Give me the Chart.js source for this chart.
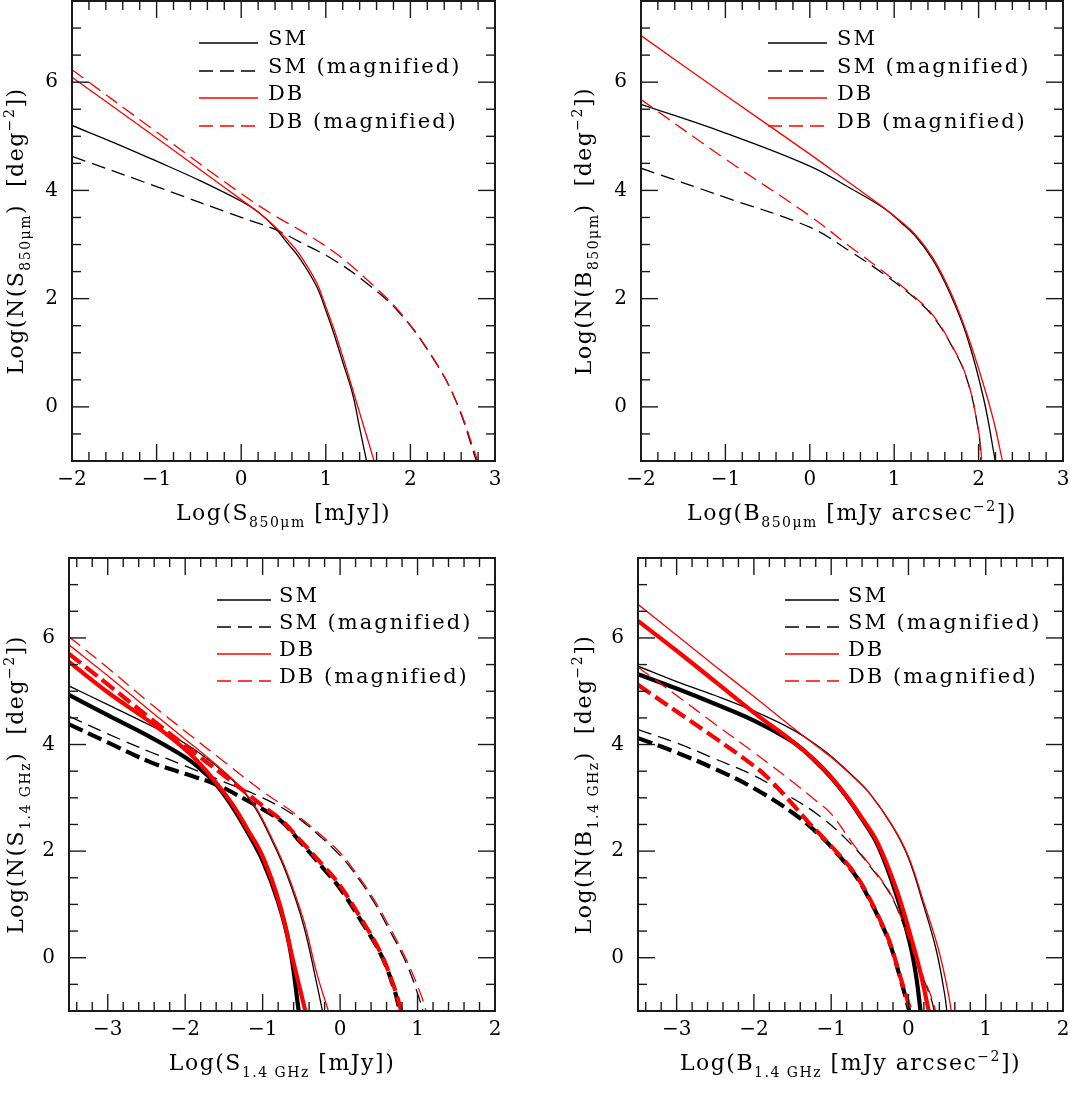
<!DOCTYPE html>
<html>
<head>
<meta charset="utf-8">
<script src="https://cdn.jsdelivr.net/npm/chart.js@4.4.0/dist/chart.umd.min.js"></script>
<style>
  body { margin: 0; background: #fff; width: 1070px; height: 1095px; position: relative; overflow: hidden; }
  canvas { position: absolute; }
</style>
</head>
<body>
<canvas id="tl" width="540" height="545" style="left:0;top:0;width:540px;height:545px"></canvas>
<canvas id="tr" width="510" height="545" style="left:560px;top:0;width:510px;height:545px"></canvas>
<canvas id="bl" width="540" height="550" style="left:0;top:545px;width:540px;height:550px"></canvas>
<canvas id="br" width="510" height="550" style="left:560px;top:545px;width:510px;height:550px"></canvas>
<script>
// tick labels
const xTicks850 = [-2, -1, 0, 1, 2, 3];
const xTicks14 = [-3, -2, -1, 0, 1, 2];
const yTicks = [0, 2, 4, 6];

// top left: N(S_850um), pairs of [log S, log N]
const tlSM    = [[-2,5.2],[-1.5,4.88],[-1,4.54],[-0.5,4.19],[0,3.8],[0.2,3.6],[0.4,3.31],[0.55,3.02],[0.69,2.75],[0.89,2.23],[1.01,1.74],[1.09,1.38],[1.2,0.83],[1.32,0.22],[1.4,-0.39],[1.485,-1.02]];
const tlSMmag = [[-2,4.63],[-1,4.07],[0,3.5],[0.4,3.28],[0.69,3.05],[1.09,2.72],[1.48,2.29],[1.87,1.74],[2.27,0.89],[2.54,0.1],[2.785,-1.02]];
const tlDB    = [[-2,6.09],[-1,4.97],[-0.5,4.4],[0,3.83],[0.2,3.6],[0.4,3.33],[0.55,3.08],[0.69,2.82],[0.89,2.3],[1.0,1.85],[1.1,1.42],[1.2,0.93],[1.36,0.1],[1.575,-1.02]];
const tlDBmag = [[-2,6.23],[-1,5.08],[0,3.94],[0.4,3.53],[0.69,3.27],[1.09,2.87],[1.48,2.36],[1.87,1.76],[2.27,0.9],[2.54,0.11],[2.8,-1.02]];

// top right: N(B_850um)
const trSM    = [[-2,5.59],[-1,5.06],[0,4.45],[0.47,4.05],[0.87,3.68],[1.07,3.42],[1.265,3.13],[1.46,2.71],[1.66,2.1],[1.86,1.31],[2.06,0.15],[2.2,-1.02]];
const trSMmag = [[-2,4.41],[-1,3.87],[0,3.32],[0.47,2.88],[0.87,2.46],[1.265,1.98],[1.46,1.67],[1.66,1.19],[1.86,0.52],[2.0,-0.46],[2.03,-1.02]];
const trDB    = [[-2,6.86],[-1,5.76],[0,4.67],[0.47,4.14],[0.87,3.69],[1.07,3.44],[1.265,3.16],[1.46,2.75],[1.66,2.15],[1.86,1.37],[2.06,0.4],[2.18,-0.27],[2.285,-1.02]];
const trDBmag = [[-2,5.68],[-1,4.58],[0,3.53],[0.47,2.97],[0.87,2.5],[1.265,2.0],[1.46,1.69],[1.66,1.2],[1.86,0.53],[2.0,-0.45],[2.04,-1.02]];

// bottom left: N(S_1.4GHz), thin and thick versions
const blSM         = [[-3.5,5.1],[-3,4.75],[-2.45,4.36],[-2,4.02],[-1.6,3.6],[-1.3,3.2],[-1.1,2.82],[-0.9,2.26],[-0.69,1.57],[-0.47,0.6],[-0.3,-0.5],[-0.22,-1.05]];
const blSMmag      = [[-3.5,4.53],[-3,4.2],[-2.45,3.86],[-2,3.6],[-1.5,3.3],[-1,3.0],[-0.6,2.68],[-0.3,2.33],[0,1.92],[0.17,1.62],[0.4,1.13],[0.6,0.62],[0.86,-0.12],[1.03,-0.8],[1.08,-1.05]];
const blDB         = [[-3.5,5.87],[-3,5.29],[-2.45,4.63],[-2,4.1],[-1.6,3.62],[-1.3,3.22],[-1.1,2.85],[-0.9,2.3],[-0.69,1.62],[-0.47,0.7],[-0.3,-0.3],[-0.14,-1.05]];
const blDBmag      = [[-3.5,6.02],[-3,5.44],[-2.45,4.77],[-2,4.25],[-1.5,3.68],[-1,3.12],[-0.6,2.72],[-0.3,2.37],[0,1.97],[0.17,1.66],[0.4,1.18],[0.6,0.68],[0.86,-0.05],[1.05,-0.72],[1.12,-1.05]];
const blSMthick    = [[-3.5,4.93],[-3,4.55],[-2.45,4.14],[-2.1,3.85],[-1.85,3.6],[-1.6,3.25],[-1.4,2.85],[-1.2,2.37],[-1.0,1.82],[-0.8,1.05],[-0.65,0.2],[-0.53,-1.05]];
const blSMmagThick = [[-3.5,4.38],[-3,4.04],[-2.45,3.67],[-2,3.45],[-1.6,3.25],[-1.2,2.95],[-0.9,2.7],[-0.75,2.55],[-0.5,2.15],[-0.2,1.65],[0,1.3],[0.26,0.72],[0.52,0.08],[0.69,-0.55],[0.78,-1.05]];
const blDBthick    = [[-3.5,5.55],[-3,4.98],[-2.45,4.42],[-2.1,4.03],[-1.85,3.7],[-1.6,3.28],[-1.4,2.9],[-1.2,2.42],[-1.0,1.9],[-0.78,1.0],[-0.6,-0.1],[-0.44,-1.05]];
const blDBmagThick = [[-3.5,5.7],[-3,5.13],[-2.45,4.49],[-2,3.98],[-1.5,3.42],[-1.2,3.08],[-1.0,2.85],[-0.75,2.57],[-0.5,2.18],[-0.2,1.7],[0,1.35],[0.26,0.76],[0.52,0.1],[0.69,-0.52],[0.8,-1.05]];

// bottom right: N(B_1.4GHz)
const brSM         = [[-3.5,5.47],[-3,5.18],[-2.5,4.92],[-2,4.63],[-1.5,4.28],[-1.15,3.95],[-1,3.78],[-0.75,3.45],[-0.5,3.08],[-0.2,2.45],[0,1.87],[0.19,1.01],[0.36,0.14],[0.47,-0.7],[0.5,-1.05]];
const brSMmag      = [[-3.5,4.28],[-3,4.03],[-2.5,3.73],[-2,3.42],[-1.6,3.08],[-1.15,2.66],[-0.72,2.1],[-0.5,1.72],[-0.24,1.2],[-0.07,0.64],[0.1,-0.05],[0.3,-0.8],[0.34,-1.05]];
const brDB         = [[-3.5,6.63],[-3,6.05],[-2.5,5.47],[-2,4.9],[-1.5,4.32],[-1.15,3.93],[-1,3.76],[-0.75,3.44],[-0.5,3.08],[-0.2,2.46],[0,1.9],[0.2,1.03],[0.38,0.2],[0.5,-0.55],[0.56,-1.05]];
const brDBmag      = [[-3.5,5.45],[-3,4.92],[-2.5,4.38],[-2,3.85],[-1.5,3.3],[-1.2,2.95],[-1,2.7],[-0.72,2.14],[-0.5,1.74],[-0.24,1.22],[-0.07,0.66],[0.1,-0.03],[0.3,-0.75],[0.36,-1.05]];
const brSMthick    = [[-3.5,5.32],[-3,5.05],[-2.5,4.76],[-2,4.45],[-1.5,4.05],[-1.2,3.68],[-1,3.38],[-0.8,3.02],[-0.6,2.6],[-0.4,2.12],[-0.16,1.2],[0.02,0.26],[0.1,-0.35],[0.16,-1.05]];
const brSMmagThick = [[-3.5,4.12],[-3,3.85],[-2.5,3.54],[-2,3.18],[-1.5,2.72],[-1.15,2.3],[-0.89,1.9],[-0.67,1.51],[-0.5,1.08],[-0.37,0.7],[-0.24,0.26],[-0.11,-0.36],[0.02,-1.05]];
const brDBthick    = [[-3.5,6.32],[-3,5.76],[-2.5,5.18],[-2,4.6],[-1.5,4.06],[-1.2,3.69],[-1,3.39],[-0.8,3.03],[-0.6,2.62],[-0.4,2.16],[-0.16,1.3],[0.02,0.45],[0.15,-0.25],[0.27,-1.05]];
const brDBmagThick = [[-3.5,5.12],[-3,4.62],[-2.5,4.12],[-2,3.6],[-1.8,3.35],[-1.5,2.88],[-1.3,2.55],[-1.15,2.32],[-0.89,1.92],[-0.67,1.53],[-0.5,1.1],[-0.37,0.72],[-0.24,0.28],[-0.11,-0.34],[0.04,-1.05]];

const FONT = '"DejaVu Serif", serif';
const RED = '#ff0000';
const BLACK = '#000000';

function line(pts, color, dashed, thick) {
  return {
    data: pts.map(p => ({ x: p[0], y: p[1] })),
    borderColor: color,
    borderWidth: thick ? 4.2 : 1.3,
    borderDash: dashed ? (thick ? [15, 6] : [14, 7]) : [],
    pointRadius: 0,
    fill: false,
    tension: 0.4
  };
}

function fmt(v) {
  return v < 0 ? '\u2212' + (-v) : '' + v;
}

// draws text pieces with sub (1) and superscripts (2), centred on x,y
function richText(ctx, parts, x, y, size, angle) {
  ctx.save();
  ctx.translate(x, y);
  ctx.rotate(angle || 0);
  ctx.fillStyle = '#000';
  ctx.textBaseline = 'alphabetic';
  ctx.textAlign = 'left';
  ctx.letterSpacing = '1.5px';
  const fontFor = m => (m ? Math.round(size * 0.62) : size) + 'px ' + FONT;
  let w = 0;
  parts.forEach(p => { ctx.font = fontFor(p[1]); w += ctx.measureText(p[0]).width; });
  let cx = -w / 2;
  const base = size * 0.36;
  parts.forEach(p => {
    ctx.font = fontFor(p[1]);
    const dy = p[1] === 1 ? size * 0.3 : p[1] === 2 ? -size * 0.42 : 0;
    ctx.fillText(p[0], cx, base + dy);
    cx += ctx.measureText(p[0]).width;
  });
  ctx.restore();
}

const legendItems = [['SM', BLACK, false], ['SM (magnified)', BLACK, true], ['DB', RED, false], ['DB (magnified)', RED, true]];

function decor(cfg) {
  return {
    id: 'decor',
    afterDraw(chart) {
      const ctx = chart.ctx;
      const a = chart.chartArea;
      const x = chart.scales.x, y = chart.scales.y;
      ctx.save();
      ctx.strokeStyle = '#1a1a1a';
      ctx.lineWidth = 1.4;
      const seg = (x0, y0, x1, y1) => { ctx.beginPath(); ctx.moveTo(x0, y0); ctx.lineTo(x1, y1); ctx.stroke(); };
      // inward ticks on all four sides: minor every 0.2 (x) and 0.5 (y)
      for (let k = Math.ceil(x.min * 5 - 1e-6); k <= Math.floor(x.max * 5 + 1e-6); k++) {
        const px = x.getPixelForValue(k / 5);
        const L = k % 5 === 0 ? 17 : 9;
        seg(px, a.bottom, px, a.bottom - L);
        seg(px, a.top, px, a.top + L);
      }
      for (let k = Math.ceil(y.min * 2 - 1e-6); k <= Math.floor(y.max * 2 + 1e-6); k++) {
        const py = y.getPixelForValue(k / 2);
        const L = k % 4 === 0 ? 17 : 9;
        seg(a.left, py, a.left + L, py);
        seg(a.right, py, a.right - L, py);
      }
      ctx.lineWidth = 2;
      ctx.strokeRect(a.left, a.top, a.right - a.left, a.bottom - a.top);

      // legend
      ctx.font = '21px ' + FONT;
      ctx.letterSpacing = '2px';
      ctx.textBaseline = 'alphabetic';
      legendItems.forEach((it, i) => {
        const ly = cfg.rows[i];
        ctx.strokeStyle = it[1];
        ctx.lineWidth = 1.3;
        ctx.setLineDash(it[2] ? [14, 7] : []);
        seg(cfg.lx0, ly, cfg.lx1, ly);
        ctx.setLineDash([]);
        ctx.fillStyle = '#000';
        ctx.fillText(it[0], cfg.tx, ly + 2);
      });
      ctx.restore();

      // axis titles
      richText(ctx, cfg.xTitle, (a.left + a.right) / 2, a.bottom + 51, 22, 0);
      richText(ctx, cfg.yTitle, cfg.yTitleX, (a.top + a.bottom) / 2, 22, -Math.PI / 2);
    }
  };
}

function panel(id, sets, xmin, xmax, xTicks, box, cfg) {
  const ticksFont = { family: FONT, size: 20 };
  new Chart(document.getElementById(id), {
    type: 'line',
    data: { datasets: sets },
    options: {
      responsive: false,
      animation: false,
      layout: { padding: { left: 0, top: box.top, right: box.right, bottom: 0 } },
      plugins: { legend: { display: false }, tooltip: { enabled: false } },
      scales: {
        x: {
          type: 'linear', min: xmin, max: xmax,
          afterBuildTicks: s => { s.ticks = xTicks.map(v => ({ value: v })); },
          afterFit: s => { s.height = box.xh; s.paddingLeft = 0; s.paddingRight = 0; },
          grid: { display: false, drawTicks: false },
          border: { display: false },
          ticks: { font: ticksFont, color: '#000', padding: 7, maxRotation: 0, autoSkip: false, callback: fmt }
        },
        y: {
          type: 'linear', min: -1, max: 7.5,
          afterBuildTicks: s => { s.ticks = yTicks.map(v => ({ value: v })); },
          afterFit: s => { s.width = box.yw; s.paddingTop = 0; s.paddingBottom = 0; },
          grid: { display: false, drawTicks: false },
          border: { display: false },
          ticks: { font: ticksFont, color: '#000', padding: 14, autoSkip: false, callback: fmt }
        }
      }
    },
    plugins: [decor(cfg)]
  });
}

const sub850 = '850\u03bcm';
const sub14 = '1.4 GHz';

panel('tl', [
  line(tlDBmag, RED, true, false), line(tlDB, RED, false, false),
  line(tlSMmag, BLACK, true, false), line(tlSM, BLACK, false, false)
], -2, 3, xTicks850, { top: 1, right: 45, xh: 84, yw: 72 }, {
  lx0: 199, lx1: 258, tx: 268, rows: [43, 71, 98, 126],
  xTitle: [['Log(S', 0], [sub850, 1], [' [mJy])', 0]],
  yTitle: [['Log(N(S', 0], [sub850, 1], [')  [deg', 0], ['\u22122', 2], ['])', 0]],
  yTitleX: 15
});

panel('tr', [
  line(trDBmag, RED, true, false), line(trDB, RED, false, false),
  line(trSMmag, BLACK, true, false), line(trSM, BLACK, false, false)
], -2, 3, xTicks850, { top: 1, right: 7, xh: 84, yw: 81 }, {
  lx0: 208, lx1: 267, tx: 277, rows: [43, 71, 98, 126],
  xTitle: [['Log(B', 0], [sub850, 1], [' [mJy arcsec', 0], ['\u22122', 2], ['])', 0]],
  yTitle: [['Log(N(B', 0], [sub850, 1], [')  [deg', 0], ['\u22122', 2], ['])', 0]],
  yTitleX: 23
});

panel('bl', [
  line(blDBmagThick, RED, true, true), line(blDBthick, RED, false, true),
  line(blDBmag, RED, true, false), line(blDB, RED, false, false),
  line(blSMmagThick, BLACK, true, true), line(blSMthick, BLACK, false, true),
  line(blSMmag, BLACK, true, false), line(blSM, BLACK, false, false)
], -3.5, 2, xTicks14, { top: 13, right: 45, xh: 84, yw: 69 }, {
  lx0: 217, lx1: 271, tx: 279, rows: [55, 82, 109, 136],
  xTitle: [['Log(S', 0], [sub14, 1], [' [mJy])', 0]],
  yTitle: [['Log(N(S', 0], [sub14, 1], [')  [deg', 0], ['\u22122', 2], ['])', 0]],
  yTitleX: 15
});

panel('br', [
  line(brDBmagThick, RED, true, true), line(brDBthick, RED, false, true),
  line(brDBmag, RED, true, false), line(brDB, RED, false, false),
  line(brSMmagThick, BLACK, true, true), line(brSMthick, BLACK, false, true),
  line(brSMmag, BLACK, true, false), line(brSM, BLACK, false, false)
], -3.5, 2, xTicks14, { top: 13, right: 7, xh: 84, yw: 78 }, {
  lx0: 225, lx1: 279, tx: 288, rows: [55, 82, 109, 136],
  xTitle: [['Log(B', 0], [sub14, 1], [' [mJy arcsec', 0], ['\u22122', 2], ['])', 0]],
  yTitle: [['Log(N(B', 0], [sub14, 1], [')  [deg', 0], ['\u22122', 2], ['])', 0]],
  yTitleX: 23
});
</script>
</body>
</html>
